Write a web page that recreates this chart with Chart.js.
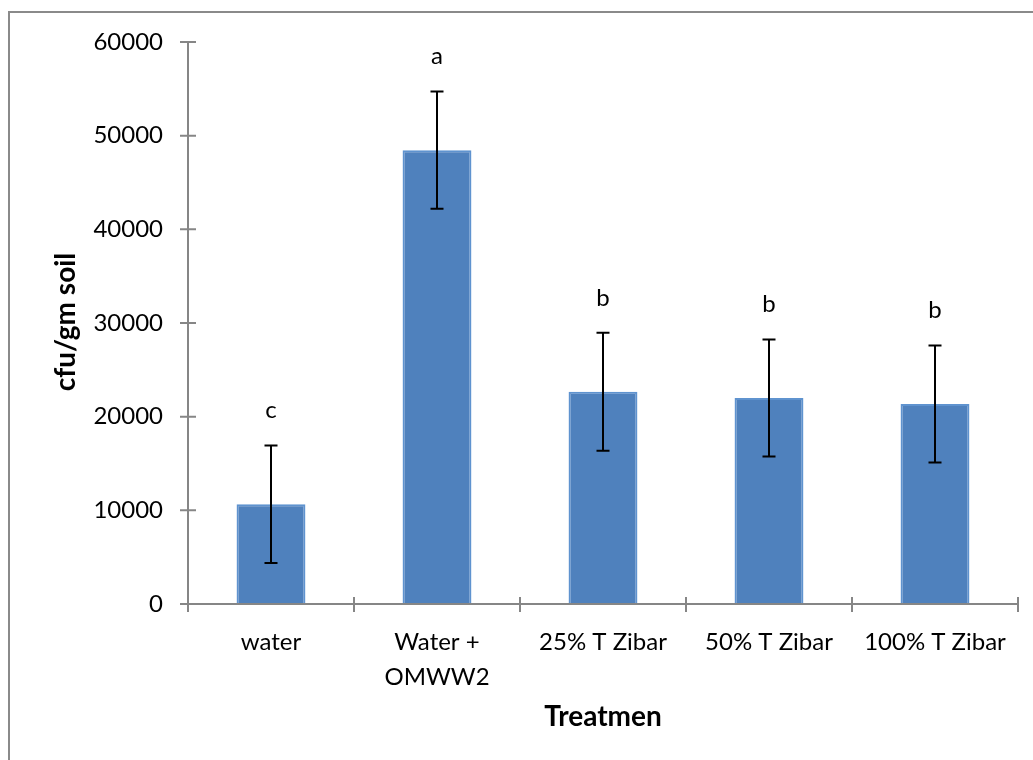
<!DOCTYPE html>
<html>
<head>
<meta charset="utf-8">
<script src="https://cdn.jsdelivr.net/npm/chart.js@4/dist/chart.umd.min.js"></script>
<style>
  html, body { margin: 0; padding: 0; background: #fff; }
  #wrap { width: 1033px; height: 760px; position: relative; }
</style>
</head>
<body>
<div id="wrap"><canvas id="chart" width="1033" height="760"></canvas></div>
<script>
const categories = ['water', ['Water +', 'OMWW2'], '25% T Zibar', '50% T Zibar', '100% T Zibar'];
const means = [10650, 48450, 22650, 22000, 21350];
const errors = [6260, 6260, 6300, 6250, 6250];
const letters = ['c', 'a', 'b', 'b', 'b'];
const yTicks = [0, 10000, 20000, 30000, 40000, 50000, 60000];

const FONT = 'Lato, "Open Sans", sans-serif';
const AXIS = '#868686';

// axes, error bars, letters, titles and frame drawn on top of the library scales
const extras = {
    id: 'extras',
    beforeDraw(chart) {
        const ctx = chart.ctx;
        ctx.save();
        ctx.strokeStyle = '#8a8a8a';
        ctx.lineWidth = 2;
        ctx.strokeRect(9, 12, 3000, 3000);
        ctx.restore();
    },
    afterDatasetsDraw(chart) {
        const ctx = chart.ctx;
        const x = chart.scales.x, y = chart.scales.y;
        const area = chart.chartArea;
        ctx.save();

        // axis lines
        ctx.strokeStyle = AXIS;
        ctx.lineWidth = 2;
        ctx.beginPath();
        ctx.moveTo(area.left, area.top);
        ctx.lineTo(area.left, area.bottom);
        ctx.lineTo(area.right, area.bottom);
        ctx.stroke();

        // y ticks (crossing the axis)
        ctx.beginPath();
        yTicks.forEach(v => {
            const py = y.getPixelForValue(v);
            ctx.moveTo(area.left - 8, py);
            ctx.lineTo(area.left + 8, py);
        });
        // x ticks between categories
        const step = x.getPixelForValue(1) - x.getPixelForValue(0);
        for (let i = 0; i <= categories.length; i++) {
            const px = i < categories.length ? x.getPixelForValue(i) - step / 2 : area.right;
            ctx.moveTo(px, area.bottom - 7);
            ctx.lineTo(px, area.bottom + 8);
        }
        ctx.stroke();

        // error bars
        ctx.strokeStyle = '#000';
        ctx.lineWidth = 2;
        means.forEach((m, i) => {
            const px = x.getPixelForValue(i);
            const hi = y.getPixelForValue(m + errors[i]);
            const lo = y.getPixelForValue(m - errors[i]);
            ctx.beginPath();
            ctx.moveTo(px, hi); ctx.lineTo(px, lo);
            ctx.moveTo(px - 6.5, hi); ctx.lineTo(px + 6.5, hi);
            ctx.moveTo(px - 6.5, lo); ctx.lineTo(px + 6.5, lo);
            ctx.stroke();
        });

        // significance letters
        ctx.fillStyle = '#000';
        ctx.font = '24px ' + FONT;
        ctx.textAlign = 'center';
        ctx.textBaseline = 'middle';
        means.forEach((m, i) => {
            const px = x.getPixelForValue(i);
            const py = y.getPixelForValue(m + errors[i]) - 35;
            ctx.fillText(letters[i], px, py);
        });

        // axis titles
        ctx.font = 'bold 28px ' + FONT;
        ctx.fillText('Treatmen', (area.left + area.right) / 2, 717);
        ctx.translate(66, 322);
        ctx.rotate(-Math.PI / 2);
        ctx.fillText('cfu/gm soil', 0, 0);
        ctx.restore();
    }
};

new Chart(document.getElementById('chart'), {
    type: 'bar',
    data: {
        labels: categories,
        datasets: [{
            data: means,
            backgroundColor: '#4F81BD',
            borderColor: '#5F93CF',
            borderWidth: 2,
            categoryPercentage: 1,
            barPercentage: 0.415
        }]
    },
    options: {
        responsive: false,
        animation: false,
        layout: { padding: { top: 42, right: 15, left: 0, bottom: 0 } },
        plugins: { legend: { display: false }, tooltip: { enabled: false } },
        scales: {
            x: {
                grid: { display: false, drawTicks: false },
                border: { display: false },
                ticks: { color: '#000', font: { family: FONT, size: 24, lineHeight: 1.45 }, padding: 21, maxRotation: 0, autoSkip: false },
                afterFit: s => { s.height = 760 - 604; }
            },
            y: {
                min: 0,
                max: 60000,
                grid: { display: false, drawTicks: false },
                border: { display: false },
                ticks: { stepSize: 10000, color: '#000', font: { family: FONT, size: 24 }, padding: 25, callback: v => String(v) },
                afterFit: s => { s.width = 188; }
            }
        }
    },
    plugins: [extras]
});
</script>
</body>
</html>
